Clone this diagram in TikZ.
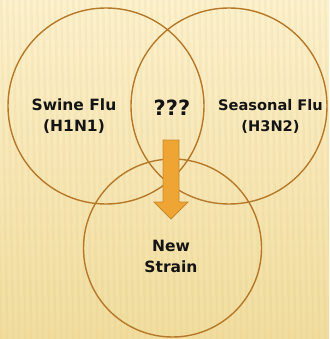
\documentclass[tikz,border=0pt]{standalone}
\usepackage{fontspec}
\setmainfont{DejaVu Sans}
\definecolor{bgtop}{RGB}{253,241,205}
\definecolor{bgbot}{RGB}{241,221,158}
\definecolor{stripec}{RGB}{214,186,110}
\definecolor{ringc}{RGB}{182,121,42}
\definecolor{arrowfill}{RGB}{239,165,52}
\definecolor{arrowedge}{RGB}{200,136,44}
\begin{document}
\begin{tikzpicture}[x=1pt,y=-1pt,
  ring/.style={circle, draw=ringc, line width=1.4pt, inner sep=0pt},
  lbl/.style={font=\bfseries\fontsize{15.5}{21}\selectfont, align=center, inner sep=0pt, text=black!92}]
  % paper background
  \shade[top color=bgtop, bottom color=bgbot] (0,0) rectangle (329,339);
  \useasboundingbox (0,0) rectangle (329,339);
  \begin{scope}
    \clip (0,0) rectangle (329,339);
    \foreach \i in {-30,-24,...,340}
      \fill[stripec, opacity=0.11] (\i,0) -- (\i+2.5,0) -- (\i+8.5,339) -- (\i+6,339) -- cycle;
  \end{scope}
  % the three strains
  \node[ring, minimum size=196pt] (swine) at (106,106) {};
  \node[ring, minimum size=196pt] (seasonal) at (229,106) {};
  \node[ring, minimum size=178pt] (strain) at (172.5,248) {};
  % mixing arrow
  \filldraw[fill=arrowfill, draw=arrowedge, line width=0.8pt]
    (163,140) -- (179,140) -- (179,202) -- (188,202) -- (171,219)
    -- (154,202) -- (163,202) -- cycle;
  % labels
  \node[lbl] (tswine) at (74,116) {Swine Flu\\(H1N1)};
  \node[lbl, font=\bfseries\fontsize{14.6}{21}\selectfont] (tseasonal) at (270.5,116) {Seasonal Flu\\(H3N2)};
  \node[lbl, font=\bfseries\fontsize{21}{24}\selectfont] (tmix) at (172,108) {???};
  \node[lbl] (tnew) at (171,256) {New\\Strain};
\end{tikzpicture}
\end{document}
